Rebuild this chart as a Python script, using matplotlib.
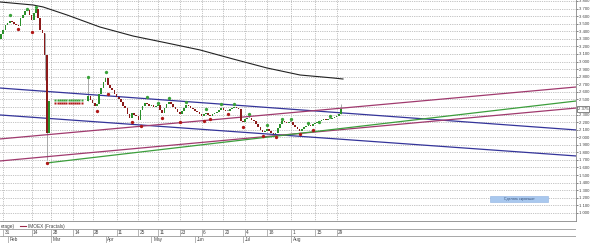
import matplotlib
matplotlib.use("Agg")
import matplotlib.pyplot as plt
from matplotlib.lines import Line2D
from matplotlib.patches import Rectangle
from matplotlib.transforms import blended_transform_factory

plt.rcParams["font.family"] = ["Liberation Sans", "DejaVu Sans"]

# IMOEX daily bars, one close per bar (x axis = bar number)
first_open = 3300
closes = [
    3364, 3417, 3483, 3509, 3536, 3522, 3496, 3483, 3470, 3575,
    3615, 3668, 3681, 3615, 3549, 3641, 3694, 3575, 3417, 3377,
    3087, 2056, 2472,
    2472, 2472, 2472, 2472, 2472, 2472, 2472, 2472, 2472, 2472,
    2472, 2472, 2472, 2472, 2472, 2472, 2472,
    2545, 2492, 2452, 2413, 2439, 2571, 2650, 2730, 2783, 2690,
    2650, 2624, 2571, 2532, 2505, 2466, 2413, 2386, 2307, 2254,
    2320, 2294, 2281, 2228, 2360, 2413, 2452, 2439, 2413, 2426,
    2400, 2413, 2426, 2360, 2320, 2386, 2439, 2466, 2439, 2400,
    2373, 2334, 2307, 2347, 2386, 2426, 2413, 2386, 2373, 2347,
    2334, 2307, 2281, 2307, 2320, 2294, 2281, 2307, 2320, 2334,
    2360, 2386, 2360, 2347, 2347, 2373, 2386, 2400, 2386, 2373,
    2215, 2201, 2241, 2254, 2254, 2228, 2215, 2175, 2135, 2096,
    2069, 2083, 2109, 2083, 2056, 2043, 2056, 2122, 2175, 2215,
    2201, 2188, 2201, 2201, 2162, 2135, 2109, 2083, 2109, 2135,
    2149, 2162, 2149, 2175, 2188, 2201, 2215, 2228, 2241, 2228,
    2241, 2241, 2254, 2267, 2281, 2307, 2375,
]

# visible shadows
wick_idx = [20, 21, 40, 156]
wick_low = [2756, 1700, 2472, 2307]
wick_high = [3377, 3087, 2783, 2439]

# Bill Williams fractals
frac_up_idx = [4, 12, 16, 40, 48, 67, 72, 77, 85, 94, 101, 107, 114, 122, 129, 133, 141, 146, 151]
frac_up_val = [3615, 3694, 3721, 2796, 2862, 2532, 2452, 2518, 2466, 2373, 2439, 2439, 2307, 2162, 2241, 2241, 2188, 2201, 2281]
frac_dn_idx = [8, 14, 21, 44, 49, 60, 64, 74, 82, 93, 96, 104, 111, 120, 126, 137, 143]
frac_dn_val = [3430, 3390, 1660, 2347, 2571, 2201, 2149, 2254, 2201, 2215, 2241, 2307, 2135, 2017, 2003, 2043, 2096]

# exchange closed: flat bars, a fractal on each
flat_frac_idx = list(range(25, 38))
flat_frac_up = 2492
flat_frac_dn = 2452

# moving average
ma_idx = [-0.5, 14.7, 19.3, 30.3, 45.4, 60.6, 76.1, 91.3, 106.4, 122, 137.2, 152.3, 156.9]
ma_val = [3787, 3747, 3721, 3615, 3456, 3337, 3245, 3153, 3034, 2915, 2822, 2783, 2769]

# trend lines (value at each end)
line_x = [-0.5, 264]
blue_upper = [2650, 2096]
blue_lower = [2294, 1752]
pink_upper = [1977, 2664]
pink_lower = [1686, 2386]
green_x = [21, 264]
green_line = [1660, 2479]

day_ticks = [1, 14, 23, 33, 42, 53, 63, 72, 82, 92, 102, 112, 122, 133, 144, 154]
day_labels = ["31", "14", "28", "14", "28", "11", "25", "11", "23", "6", "20", "4", "18", "1", "15", "29"]
month_ticks = [3, 23, 48, 69, 89, 111, 133]
month_labels = ["Feb", "Mar", "Apr", "May", "Jun", "Jul", "Aug"]
price_ticks = list(range(1000, 3900, 100))
last_price = 2375

W, H = 590, 243
fig = plt.figure(figsize=(W / 100, H / 100), dpi=100)
fig.patch.set_facecolor("white")
ax = fig.add_axes([0, 22 / H, 576 / W, 221 / H])
strip = fig.add_axes([0, 0, 576 / W, 22 / H], sharex=ax)

xlim = (-0.46, 263.8)
grid_c = "#8c8c8c"
dots = (0, (1, 1.6))

# grid
for p in price_ticks:
    ax.axhline(p, color=grid_c, lw=0.5, ls=dots, zorder=0)
for d in day_ticks:
    ax.axvline(d, color=grid_c, lw=0.5, ls=dots, zorder=0)

# candles
opens = [first_open] + closes[:-1]
for i, (o, c) in enumerate(zip(opens, closes)):
    lo, hi = min(o, c), max(o, c)
    if hi - lo < 8:
        hi = lo + 8
    if c > o:
        col = "#2a8f2a"
    elif c < o:
        col = "#8b1a1a"
    else:
        col = "#999999"
    ax.bar(i, hi - lo, bottom=lo, width=0.75, color=col, linewidth=0, zorder=3)
ax.vlines(wick_idx, wick_low, wick_high, color="#9a9a9a", lw=0.6, zorder=2)

# fractals
ax.plot(frac_up_idx, frac_up_val, "o", ms=2.4, color="#3aa23a", mec="none", zorder=4)
ax.plot(frac_dn_idx, frac_dn_val, "o", ms=2.4, color="#b01818", mec="none", zorder=4)
ax.plot(flat_frac_idx, [flat_frac_up] * len(flat_frac_idx), "s", ms=1.6,
        color="#3aa23a", mec="none", zorder=4)
ax.plot(flat_frac_idx, [flat_frac_dn] * len(flat_frac_idx), "s", ms=1.6,
        color="#b01818", mec="none", zorder=4)

# moving average and trend lines
ax.plot(ma_idx, ma_val, color="#222222", lw=0.8, zorder=3)
ax.plot(line_x, blue_upper, color="#34349a", lw=0.9, zorder=2)
ax.plot(line_x, blue_lower, color="#34349a", lw=0.9, zorder=2)
ax.plot(line_x, pink_upper, color="#a03a6e", lw=0.9, zorder=2)
ax.plot(line_x, pink_lower, color="#a03a6e", lw=0.9, zorder=2)
ax.plot(green_x, green_line, color="#3c9e3c", lw=0.9, zorder=2)

ax.set_xlim(*xlim)
ax.set_ylim(893, 3813)
ax.set_xticks(day_ticks)
ax.tick_params(axis="x", length=0, labelbottom=False)
ax.yaxis.tick_right()
ax.set_yticks(price_ticks)
# the 2 400 label sits under the last-price box
ax.set_yticklabels(["" if abs(p - last_price) < 50 else f"{p:,}".replace(",", " ")
                    for p in price_ticks])
ax.tick_params(axis="y", labelsize=3.1, length=1.5, width=0.5, pad=0.6,
               colors="#555555", labelcolor="#444444")
for s in ["top", "left"]:
    ax.spines[s].set_visible(False)
for s in ["right", "bottom"]:
    ax.spines[s].set_color("#888888")
    ax.spines[s].set_linewidth(0.6)

# last price box
tr = blended_transform_factory(ax.transAxes, ax.transData)
ax.text(1.0035, last_price, "2 375", transform=tr, fontsize=3.1, va="center",
        ha="left", color="#333333", clip_on=False, zorder=6,
        bbox=dict(boxstyle="square,pad=0.2", fc="white", ec="#555555", lw=0.5))

# bottom strip: legend row, days row, months row
strip.set_ylim(0, 22)
strip.axis("off")
strip.axhline(14.5, color="#999999", lw=0.6)
strip.axhline(7.5, color="#999999", lw=0.6)
strip.vlines(day_ticks, 7.5, 14.5, color="#999999", lw=0.5)
strip.vlines(month_ticks, 0, 7.5, color="#999999", lw=0.5)
for d, lab in zip(day_ticks, day_labels):
    strip.text(d + 0.6, 11, lab, fontsize=3.4, va="center", ha="left", color="#444444")
for m, lab in zip(month_ticks, month_labels):
    strip.text(m + 0.8, 3.8, lab, fontsize=3.4, va="center", ha="left", color="#444444")

ly = 1 - 226 / H
fig.text(0.5 / W, ly, "erage)", fontsize=3.4, va="center", ha="left", color="#444444")
fig.add_artist(Line2D([20 / W, 26 / W], [ly, ly], color="#9b2a4a", lw=0.8))
fig.text(28 / W, ly, "IMOEX (Fractals)", fontsize=3.4, va="center", ha="left", color="#444444")

# screenshot button
fig.add_artist(Rectangle((490 / W, 1 - 202 / H), 58 / W, 6 / H, transform=fig.transFigure,
                         fc="#a9c8ee", ec="#8fb2e2", lw=0.4))
fig.text(519 / W, 1 - 199 / H, "Сделать скриншот", fontsize=2.6, va="center",
         ha="center", color="#34507a")

fig.savefig("out.png", dpi=100)
